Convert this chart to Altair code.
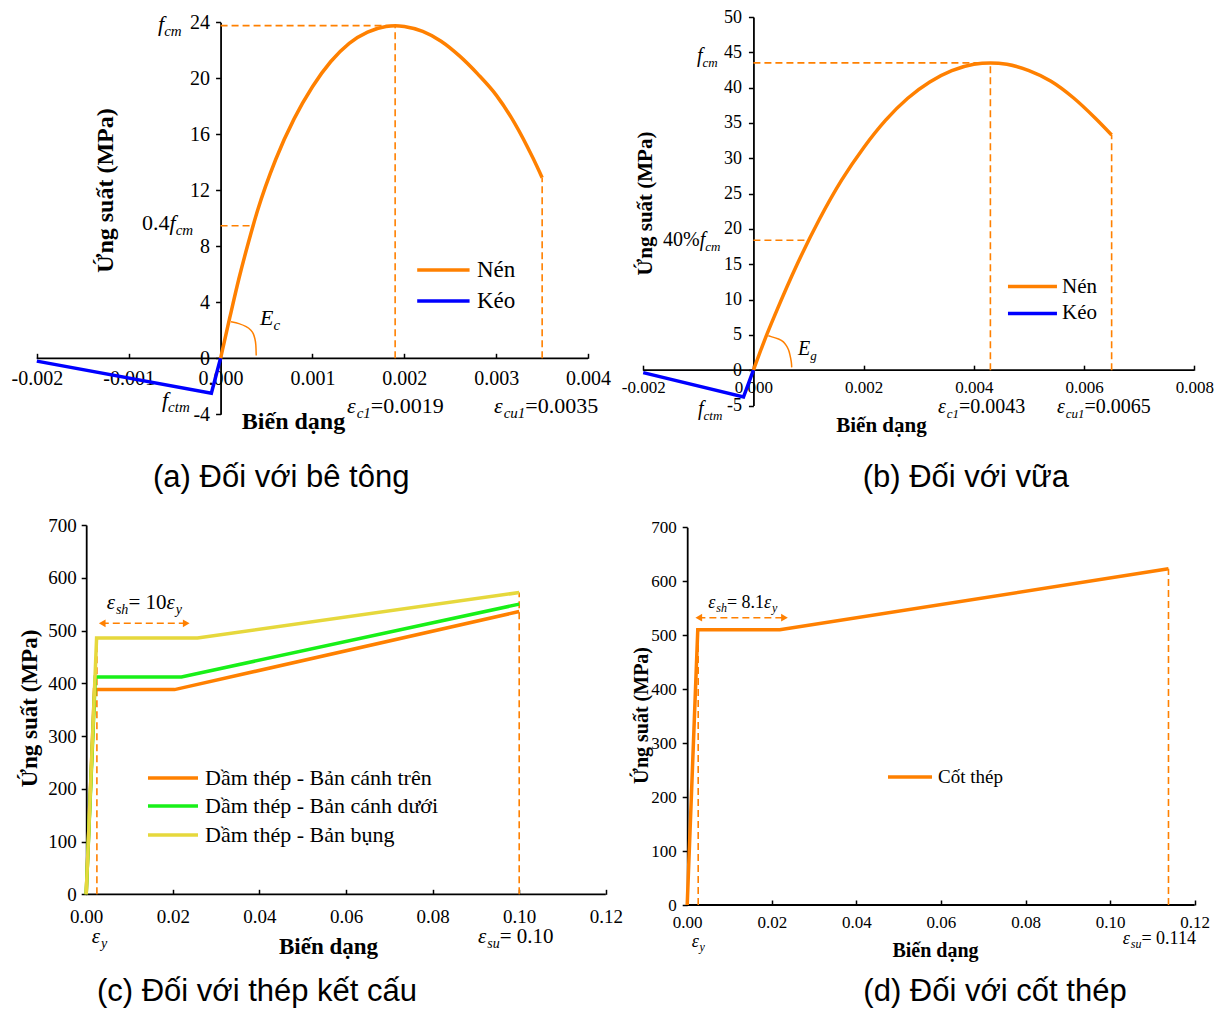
import altair as alt
import pandas as pd

ORANGE = "#FF8000"
BLUE = "#0000FF"
GREEN = "#18F018"
YELLOW = "#E6D83C"
SERIF = "Liberation Serif"
SANS = "Liberation Sans"
MINUS_FIX = "replace(datum.label, '\u2212', '-')"
W_TOTAL, H_TOTAL = 1206, 1003

# ---------------- (a) concrete ----------------
a_nen_eps = [0, 0.0001, 0.0002, 0.0003, 0.0004, 0.0006, 0.0008, 0.0010, 0.0012, 0.0014,
             0.0016, 0.0018, 0.0019, 0.0020, 0.0022, 0.0024, 0.0026, 0.0028, 0.0030,
             0.0032, 0.0034, 0.0035]
a_nen_sig = [0, 2.9, 5.7, 8.2, 10.5, 14.2, 17.1, 19.4, 21.2, 22.5,
             23.3, 23.7, 23.76, 23.7, 23.35, 22.65, 21.6, 20.3, 18.8,
             16.8, 14.3, 12.9]
a_keo_eps = [0, -0.0001, -0.002]
a_keo_sig = [0, -2.5, -0.2]
a_arc_eps = [0.000113, 0.0002, 0.000284, 0.000335, 0.000356, 0.000375, 0.000385, 0.000388]
a_arc_sig = [2.61, 2.5, 2.26, 2.0, 1.79, 1.4, 1.0, 0.2]
a_fcm, a_ec1, a_ecu1, a_end, a_04, a_04_eps = 23.76, 0.0019, 0.0035, 12.9, 9.47, 0.000355
a_xticks = [-0.002, -0.001, 0.0, 0.001, 0.002, 0.003, 0.004]
a_yticks = [-4, 0, 4, 8, 12, 16, 20, 24]
a_legend = ["Nén", "Kéo"]

# ---------------- (b) mortar ----------------
b_nen_eps = [0, 0.0002, 0.0004, 0.0008, 0.0012, 0.0016, 0.0020, 0.0024, 0.0028, 0.0032,
             0.0036, 0.0040, 0.0043, 0.0046, 0.0050, 0.0054, 0.0058, 0.0062, 0.0065]
b_nen_sig = [0, 4.2, 8.0, 15.1, 21.4, 26.9, 31.5, 35.4, 38.5, 40.8,
             42.4, 43.3, 43.5, 43.3, 42.4, 40.9, 38.6, 35.7, 33.3]
b_keo_eps = [0, -0.00018, -0.002]
b_keo_sig = [0, -3.8, -0.35]
b_arc_eps = [0.00027, 0.00048, 0.000545, 0.0006, 0.00064, 0.00066, 0.00069, 0.000695]
b_arc_sig = [4.87, 4.4, 4.05, 3.46, 2.9, 2.28, 1.2, 0.4]
b_fcm, b_ec1, b_ecu1, b_end, b_40, b_40_eps = 43.5, 0.0043, 0.0065, 33.3, 18.4, 0.00101
b_xticks = [-0.002, 0.0, 0.002, 0.004, 0.006, 0.008]
b_yticks = [-5, 0, 5, 10, 15, 20, 25, 30, 35, 40, 45, 50]

# ---------------- (c) structural steel ----------------
c_series = ["Dầm thép - Bản cánh trên", "Dầm thép - Bản cánh dưới", "Dầm thép - Bản bụng"]
c_eps = [[0, 0.0019, 0.0204, 0.1], [0, 0.0021, 0.0220, 0.1], [0, 0.0024, 0.0257, 0.1]]
c_sig = [[0, 388, 388, 536], [0, 412, 412, 550], [0, 486, 486, 572]]
c_ey, c_esu, c_top, c_arrow_y, c_arrow = 0.00247, 0.1, 572, 513.7, [0.0028, 0.024]
c_xticks = [0.0, 0.02, 0.04, 0.06, 0.08, 0.10, 0.12]
c_yticks = [0, 100, 200, 300, 400, 500, 600, 700]

# ---------------- (d) reinforcement ----------------
d_series = ["Cốt thép"]
d_eps = [0, 0.0025, 0.0219, 0.1138]
d_sig = [0, 510, 510, 623]
d_ey, d_esu, d_arrow_y, d_arrow = 0.0026, 0.1138, 532.4, [0.00184, 0.0239]
d_xticks = c_xticks
d_yticks = c_yticks

# rich annotation labels: (x, y, [(text, kind)]) kind: n normal, i italic, s italic subscript
a_labels = [(-0.000681, 23.38, [("f", "i"), ("cm", "s")]),
            (-0.000855, 9.16, [("0.4", "n"), ("f", "i"), ("cm", "s")]),
            (-0.000638, -3.48, [("f", "i"), ("ctm", "s")]),
            (0.000429, 2.38, [("E", "i"), ("c", "s")]),
            (0.001376, -3.91, [("ε", "i"), ("c1", "s"), ("=0.0019", "n")]),
            (0.002976, -3.91, [("ε", "i"), ("cu1", "s"), ("=0.0035", "n")])]
b_labels = [(-0.001024, 43.66, [("f", "i"), ("cm", "s")]),
            (-0.00164, 17.6, [("40%", "n"), ("f", "i"), ("cm", "s")]),
            (-0.001006, -6.34, [("f", "i"), ("ctm", "s")]),
            (0.000809, 2.11, [("E", "i"), ("g", "s")]),
            (0.00335, -6.06, [("ε", "i"), ("c1", "s"), ("=0.0043", "n")]),
            (0.005509, -6.06, [("ε", "i"), ("cu1", "s"), ("=0.0065", "n")])]
c_labels = [(0.00473, 541.7, [("ε", "i"), ("sh", "s"), ("= 10", "n"), ("ε", "i"), ("y", "s")]),
            (0.00127, -93.0, [("ε", "i"), ("y", "s")]),
            (0.09048, -93.0, [("ε", "i"), ("su", "s"), ("= 0.10", "n")])]
d_labels = [(0.00499, 549.9, [("ε", "i"), ("sh", "s"), ("= 8.1", "n"), ("ε", "i"), ("y", "s")]),
            (0.00106, -78.0, [("ε", "i"), ("y", "s")]),
            (0.103, -73.0, [("ε", "i"), ("su", "s"), ("= 0.114", "n")])]

captions = ["(a) Đối với bê tông", "(b) Đối với vữa", "(c) Đối với thép kết cấu", "(d) Đối với cốt thép"]

CW = {"ε": 0.44, "f": 0.28, "c": 0.44, "m": 0.72, "t": 0.28, "u": 0.5, "s": 0.39, "h": 0.5,
      "y": 0.44, "E": 0.61, "g": 0.5, ".": 0.25, "=": 0.564, " ": 0.25, "%": 0.833, "-": 0.333}


def tw(s, size):
    return sum(CW.get(ch, 0.5) for ch in s) * size


def rich_rows(labels, main, sub, sx, sy, drop):
    rows = []
    for x0, y0, parts in labels:
        cx = 0.0
        for txt, kind in parts:
            size = sub if kind == "s" else main
            dy = drop if kind == "s" else 0
            rows.append({"x": x0 + cx / sx, "y": y0 - dy / sy, "t": txt, "fs": size,
                         "k": "n" if kind == "n" else "i"})
            cx += tw(txt, size)
    return rows


def panel(cfg):
    xdom, xr, ydom, yr = cfg["xdom"], cfg["xrange"], cfg["ydom"], cfg["yrange"]
    sx = (xr[1] - xr[0]) / (xdom[1] - xdom[0])
    sy = (yr[0] - yr[1]) / (ydom[1] - ydom[0])

    def xs():
        return alt.Scale(domain=xdom, range=xr, nice=False, zero=False)

    def ys():
        return alt.Scale(domain=ydom, range=yr, nice=False, zero=False)

    yaxis_px = xr[0] + (0 - xdom[0]) * sx
    xaxis_px = yr[0] - (0 - ydom[0]) * sy
    yoff = -yaxis_px
    xoff = xaxis_px - 5 - H_TOTAL
    xt, yt = cfg["xtitle"], cfg["ytitle"]

    x_axis = alt.Axis(orient="bottom", offset=xoff, values=cfg["xticks"], format=cfg["xfmt"],
                      labelExpr=MINUS_FIX, domain=False, ticks=True, tickSize=5, tickWidth=1.5,
                      tickColor="black", labelFont=SERIF, labelFontSize=cfg["tick_fs"],
                      labelColor="black", labelPadding=cfg["xpad"], labelFlush=False,
                      labelOverlap=False, grid=False, title="Biến dạng", titleFont=SERIF,
                      titleFontSize=cfg["title_fs"], titleFontWeight="bold", titleColor="black",
                      titleX=xt[0], titleY=xt[1] - (H_TOTAL + xoff), titleAlign="center",
                      titleBaseline="middle", titleAngle=0)
    y_axis = alt.Axis(orient="left", offset=yoff, values=cfg["yticks"], format="d",
                      labelExpr=MINUS_FIX, domain=True, domainColor="black", domainWidth=1.8,
                      ticks=True, tickSize=5, tickWidth=1.5, tickColor="black",
                      labelFont=SERIF, labelFontSize=cfg["ytick_fs"], labelColor="black",
                      labelPadding=cfg["ypad"], labelFlush=False, labelOverlap=False, grid=False,
                      title="Ứng suất (MPa)", titleFont=SERIF, titleFontSize=cfg["title_fs"],
                      titleFontWeight="bold", titleColor="black",
                      titleX=yt[0] - yaxis_px, titleY=yt[1], titleAngle=270,
                      titleAlign="center", titleBaseline="middle")

    def X(f):
        return alt.X(f, type="quantitative", scale=xs(), axis=None)

    def Y(f):
        return alt.Y(f, type="quantitative", scale=ys(), axis=None)

    layers = []
    dom_df = pd.DataFrame({"x": [xdom[0]], "x2": [xdom[1]], "y": [0]})
    layers.append(alt.Chart(dom_df).mark_rule(color="black", strokeWidth=1.8).encode(
        x=alt.X("x", type="quantitative", scale=xs(), axis=x_axis), x2="x2:Q",
        y=alt.Y("y", type="quantitative", scale=ys(), axis=y_axis)))

    dash_df = pd.DataFrame(cfg["dashes"], columns=["x", "y", "x2", "y2"])
    layers.append(alt.Chart(dash_df).mark_rule(color=ORANGE, strokeWidth=1.6, strokeDash=[7, 4]).encode(
        x=X("x"), y=Y("y"), x2="x2:Q", y2="y2:Q"))

    if "arrow_heads" in cfg:
        layers.append(alt.Chart(pd.DataFrame(cfg["arrow_heads"], columns=["x", "y", "s"])).mark_point(
            filled=True, color=ORANGE, size=60, opacity=1).encode(
            x=X("x"), y=Y("y"), shape=alt.Shape("s:N", scale=None)))

    for eps, sig, col, w, interp in cfg["curves"]:
        df = pd.DataFrame({"x": eps, "y": sig, "i": list(range(len(eps)))})
        layers.append(alt.Chart(df).mark_line(color=col, strokeWidth=w, interpolate=interp).encode(
            x=X("x"), y=Y("y"), order="i:Q"))

    # legend
    lg = cfg["legend"]
    n = len(lg["names"])
    lrows = pd.DataFrame({"x": [lg["x"][0]] * n, "x2": [lg["x"][1]] * n,
                          "y": lg["y"], "t": lg["names"], "c": lg["colors"],
                          "tx": [lg["tx"]] * n})
    layers.append(alt.Chart(lrows).mark_rule(strokeWidth=3.5).encode(
        x=X("x"), x2="x2:Q", y=Y("y"), color=alt.Color("c:N", scale=None)))
    layers.append(alt.Chart(lrows).mark_text(align="left", baseline="middle", font=SERIF,
                                             fontSize=lg["fs"], color="black").encode(
        x=X("tx"), y=Y("y"), text="t:N"))

    rr = pd.DataFrame(rich_rows(cfg["labels"], cfg["main_fs"], cfg["sub_fs"], sx, sy, cfg["drop"]))
    for kind, style in (("n", "normal"), ("i", "italic")):
        sub = rr[rr["k"] == kind]
        if len(sub):
            layers.append(alt.Chart(sub).mark_text(align="left", baseline="alphabetic", font=SERIF,
                                                   fontStyle=style, color="black").encode(
                x=X("x"), y=Y("y"), text="t:N", size=alt.Size("fs:Q", scale=None)))

    cap = pd.DataFrame({"x": [cfg["caption_xy"][0]], "y": [cfg["caption_xy"][1]], "t": [cfg["caption"]]})
    layers.append(alt.Chart(cap).mark_text(align="center", baseline="middle", font=SANS,
                                           fontSize=31, color="black").encode(
        x=X("x"), y=Y("y"), text="t:N"))
    return layers


pa = panel(dict(
    xdom=[-0.002, 0.004], xrange=[28.8, 580.1], ydom=[-4, 24], yrange=[406.3, 14.3],
    xticks=a_xticks, yticks=a_yticks, xfmt=".3f", tick_fs=20, ytick_fs=20, title_fs=24,
    xpad=10, ypad=6, xtitle=(285, 413), ytitle=(97, 182),
    dashes=[(0, a_fcm, a_ec1, a_fcm), (a_ec1, 0, a_ec1, a_fcm), (a_ecu1, 0, a_ecu1, a_end),
            (0, a_04, a_04_eps, a_04)],
    curves=[(a_nen_eps, a_nen_sig, ORANGE, 3.5, "monotone"), (a_keo_eps, a_keo_sig, BLUE, 3.5, "linear"),
            (a_arc_eps, a_arc_sig, ORANGE, 1.5, "basis")],
    legend=dict(x=[0.00214, 0.00271], y=[6.31, 4.09], tx=0.00279, names=a_legend,
                colors=[ORANGE, BLUE], fs=23),
    labels=a_labels, main_fs=22, sub_fs=15, drop=5,
    caption=captions[0], caption_xy=(0.00066, -8.55)))

pb = panel(dict(
    xdom=[-0.002, 0.008], xrange=[635.2, 1186.3], ydom=[-5, 50], yrange=[397.5, 9],
    xticks=b_xticks, yticks=b_yticks, xfmt=".3f", tick_fs=17, ytick_fs=18, title_fs=21,
    xpad=9, ypad=7, xtitle=(873, 417), ytitle=(637, 195),
    dashes=[(0, b_fcm, b_ec1, b_fcm), (b_ec1, 0, b_ec1, b_fcm), (b_ecu1, 0, b_ecu1, b_end),
            (0, b_40, b_40_eps, b_40)],
    curves=[(b_nen_eps, b_nen_sig, ORANGE, 3.5, "monotone"), (b_keo_eps, b_keo_sig, BLUE, 3.5, "linear"),
            (b_arc_eps, b_arc_sig, ORANGE, 1.5, "basis")],
    legend=dict(x=[0.004619, 0.005508], y=[11.83, 8.03], tx=0.005599, names=a_legend,
                colors=[ORANGE, BLUE], fs=21),
    labels=b_labels, main_fs=20, sub_fs=13, drop=5,
    caption=captions[1], caption_xy=(0.003855, -15.2)))

pc = panel(dict(
    xdom=[0, 0.12], xrange=[78.2, 597.8], ydom=[0, 700], yrange=[886.3, 517],
    xticks=c_xticks, yticks=c_yticks, xfmt=".2f", tick_fs=19, ytick_fs=19, title_fs=23,
    xpad=13, ypad=5, xtitle=(320, 938), ytitle=(22, 700),
    dashes=[(c_ey, 0, c_ey, 486), (c_esu, 0, c_esu, c_top),
            (c_arrow[0] + 0.0008, c_arrow_y, c_arrow[1] - 0.0008, c_arrow_y)],
    arrow_heads=[(c_arrow[0] + 0.0009, c_arrow_y, "triangle-left"),
                 (c_arrow[1] - 0.0009, c_arrow_y, "triangle-right")],
    curves=[(c_eps[0], c_sig[0], ORANGE, 3.5, "linear"), (c_eps[1], c_sig[1], GREEN, 3.5, "linear"),
            (c_eps[2], c_sig[2], YELLOW, 3.5, "linear")],
    legend=dict(x=[0.01427, 0.02582], y=[220.4, 167.4, 112.4], tx=0.02744, names=c_series,
                colors=[ORANGE, GREEN, YELLOW], fs=22),
    labels=c_labels, main_fs=21, sub_fs=14, drop=5,
    caption=captions[2], caption_xy=(0.03945, -185.2)))

pd_ = panel(dict(
    xdom=[0, 0.12], xrange=[679.2, 1186.7], ydom=[0, 700], yrange=[897, 519.3],
    xticks=d_xticks, yticks=d_yticks, xfmt=".2f", tick_fs=17, ytick_fs=17, title_fs=20,
    xpad=9, ypad=6, xtitle=(927, 942), ytitle=(633, 707),
    dashes=[(d_ey, 0, d_ey, 510), (d_esu, 0, d_esu, 623),
            (d_arrow[0] + 0.0008, d_arrow_y, d_arrow[1] - 0.0008, d_arrow_y)],
    arrow_heads=[(d_arrow[0] + 0.0009, d_arrow_y, "triangle-left"),
                 (d_arrow[1] - 0.0009, d_arrow_y, "triangle-right")],
    curves=[(d_eps, d_sig, ORANGE, 3.5, "linear")],
    legend=dict(x=[0.04748, 0.05789], y=[237.2], tx=0.0593, names=d_series,
                colors=[ORANGE], fs=19),
    labels=d_labels, main_fs=18, sub_fs=12, drop=4,
    caption=captions[3], caption_xy=(0.07278, -161.2)))

chart = alt.layer(*(pa + pb + pc + pd_)).resolve_scale(x="independent", y="independent").properties(
    width=W_TOTAL, height=H_TOTAL, autosize=alt.AutoSizeParams(type="none"), padding=0
).configure_view(stroke=None)

chart.save("out.html", embed_options={"renderer": "svg", "actions": False})
